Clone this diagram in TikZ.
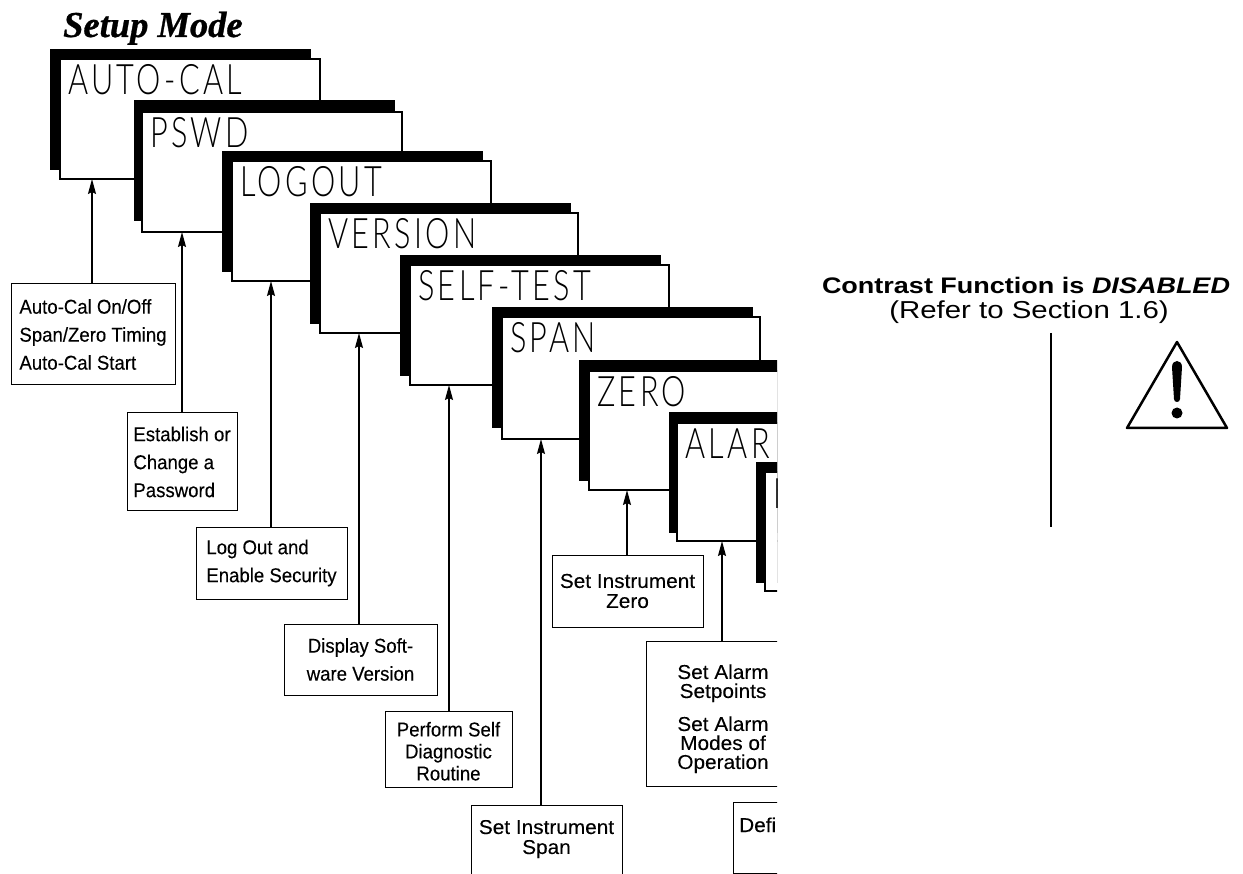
\documentclass[tikz,border=0pt]{standalone}
\usepackage{fontspec}
\usetikzlibrary{arrows.meta}
\setmainfont{Liberation Sans}
\newfontfamily\dispfont[FakeStretch=.73,LetterSpace=8]{Lato Light}
\newfontfamily\headfont[FakeBold=.8]{Liberation Serif}
\newfontfamily\capfont[FakeStretch=.93,FakeBold=.15]{Liberation Sans}
\newfontfamily\capwide[FakeStretch=1.04,FakeBold=.15]{Liberation Sans}
\newfontfamily\notefont[FakeStretch=1.2]{Liberation Sans}

\tikzset{
  scrback/.style={fill=black,inner sep=0,outer sep=0,anchor=north west,minimum width=261pt,minimum height=121pt},
  scrface/.style={draw,line width=1.3pt,fill=white,inner sep=0,outer sep=0,anchor=north west},
  scrtext/.style={font=\dispfont\fontsize{42}{42}\selectfont,inner sep=0,anchor=base west},
  capbox/.style={draw,line width=1pt,fill=white,inner sep=0,outer sep=0,anchor=north west,align=center,font=\capfont\fontsize{20}{28}\selectfont},
  capboxw/.style={capbox,font=\capwide\fontsize{20}{28}\selectfont},
  arr/.style={line width=1.6pt,-{Stealth[length=15pt,width=8pt,inset=2pt]}}
}

\begin{document}
\begin{tikzpicture}[x=1pt,y=-1pt]
  \useasboundingbox (0,0) rectangle (1243,874);

  \node[font=\headfont\bfseries\itshape\fontsize{36.5}{36.5}\selectfont,inner sep=0,anchor=base west] (ttlSetup) at (63,37) {Setup Mode};

  \begin{scope}
    \clip (0,0) rectangle (777,874);

    \foreach \n/\bx/\by/\wx/\wy/\w/\h/\t in {1/50/49/60/59/260/120/AUTO-CAL,2/134/100/142/112/260/120/PSWD,
      3/222/151/232/161/259/120/LOGOUT,4/310/203/320/213/258/120/VERSION,5/400/255/410/265/259/120/SELF-TEST,
      6/492/307/502/317/258/122/SPAN,7/579/360/589/371/258/119/ZERO,8/669/412/677/423/258/118/ALAR,9/756/462/765/472/258/119/I}{
      \node[scrback] (bk\n) at (\bx,\by) {};
      \node[scrface,minimum width=\w pt,minimum height=\h pt] (scr\n) at (\wx,\wy) {};
      \node[scrtext] (txt\n) at (\wx+8,\wy+36) {\t};
    }

    % boxes under the screens
    \node[capbox,minimum width=164pt,minimum height=101pt,align=left] (cap1) at (11,284) {Auto-Cal On/Off\\Span/Zero Timing\\Auto-Cal Start};
    \node[capbox,minimum width=110pt,minimum height=98pt,align=left] (cap2) at (127,413) {Establish or\\Change a\\Password};
    \node[capbox,minimum width=151pt,minimum height=72pt,align=left] (cap3) at (196,527) {Log Out and\\Enable Security};
    \node[capbox,minimum width=153pt,minimum height=71pt] (cap4) at (284,624) {Display Soft-\\ware Version};
    \node[capbox,minimum width=127pt,minimum height=76pt] (cap5) at (385,711) {\rule{0pt}{19pt}Perform Self\\[-6pt]Diagnostic\\[-6pt]Routine};
    \node[capboxw,minimum width=151pt,text depth=60pt,inner ysep=15pt] (cap6) at (471,805) {Set Instrument\\[-8pt]Span};
    \node[capboxw,minimum width=151pt,minimum height=72pt] (cap7) at (552,555) {Set Instrument\\[-8pt]Zero};
    \node[capboxw,minimum width=154pt,minimum height=145pt] (cap8) at (646,641) {\rule{0pt}{25pt}Set Alarm\\[-9pt]Setpoints\\[5pt]Set Alarm\\[-9pt]Modes of\\[-9pt]Operation};
    \node[capbox,minimum width=120pt,minimum height=71pt] (cap9) at (733,802) {};
    \node[inner sep=0,anchor=base west,font=\capwide\fontsize{20}{28}\selectfont] (txtDefi) at (739,832) {Defi};

    \foreach \a/\x in {1/92,2/182,3/271,4/359,5/449,6/541,7/627,8/722}{
      \coordinate (up\a) at (\x,0);
      \draw[arr] (up\a |- cap\a.north) -- (up\a |- scr\a.south);
    }
  \end{scope}

  \node[font=\notefont\bfseries\fontsize{22.5}{22.5}\selectfont,inner sep=0] (ttlContrast) at (1026,285) {Contrast Function is \textit{DISABLED}};
  \node[font=\notefont\fontsize{24.5}{24.5}\selectfont,inner sep=0] (ttlRefer) at (1029,312) {(Refer to Section 1.6)};

  \coordinate (barTop) at (1051,333);
  \coordinate (barEnd) at (1051,527);
  \draw[line width=2pt] (barTop) -- (barEnd);

  \draw[line width=2.5pt,line join=round] (1177,342) -- (1227,428) -- (1127,428) -- cycle;
  \fill (1172,367) .. controls (1172,359) and (1182,359) .. (1182,367) -- (1180,399) .. controls (1180,403) and (1174,403) .. (1174,399) -- cycle;
  \fill (1177,413) circle (5.5pt);
\end{tikzpicture}
\end{document}
